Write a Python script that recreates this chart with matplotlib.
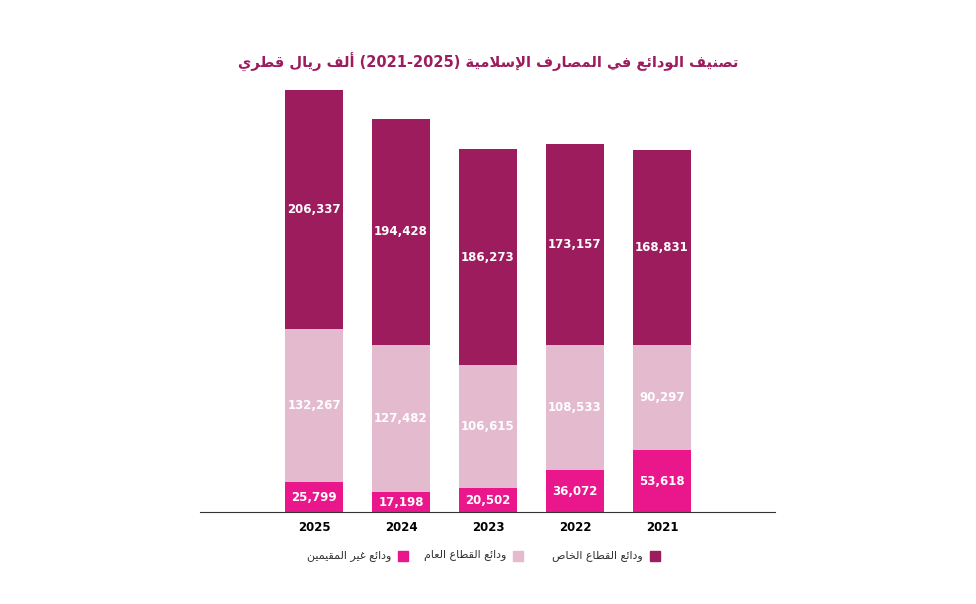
import matplotlib
matplotlib.use('Agg')
import matplotlib.pyplot as plt
import numpy as np

years = ['2025', '2024', '2023', '2022', '2021']
non_resident = [25799, 17198, 20502, 36072, 53618]
public_sector = [132267, 127482, 106615, 108533, 90297]
private_sector = [206337, 194428, 186273, 173157, 168831]

title = 'تصنيف الودائع في المصارف الإسلامية (2021-2025) ألف ريال قطري'
lbl_non = 'ودائع غير المقيمين'
lbl_pub = 'ودائع القطاع العام'
lbl_priv = 'ودائع القطاع الخاص'

dark = '#9C1C5E'
light = '#E3BACE'
pink = '#E9168C'

# simple Arabic shaping: (isolated, final, initial, medial)
FORMS = {
    'ا': (0xFE8D, 0xFE8E, None, None), 'أ': (0xFE83, 0xFE84, None, None),
    'إ': (0xFE87, 0xFE88, None, None), 'د': (0xFEA9, 0xFEAA, None, None),
    'ر': (0xFEAD, 0xFEAE, None, None), 'و': (0xFEED, 0xFEEE, None, None),
    'ة': (0xFE93, 0xFE94, None, None),
    'ت': (0xFE95, 0xFE96, 0xFE97, 0xFE98), 'س': (0xFEB1, 0xFEB2, 0xFEB3, 0xFEB4),
    'ص': (0xFEB9, 0xFEBA, 0xFEBB, 0xFEBC), 'ط': (0xFEC1, 0xFEC2, 0xFEC3, 0xFEC4),
    'ع': (0xFEC9, 0xFECA, 0xFECB, 0xFECC), 'غ': (0xFECD, 0xFECE, 0xFECF, 0xFED0),
    'ف': (0xFED1, 0xFED2, 0xFED3, 0xFED4), 'ق': (0xFED5, 0xFED6, 0xFED7, 0xFED8),
    'ل': (0xFEDD, 0xFEDE, 0xFEDF, 0xFEE0), 'م': (0xFEE1, 0xFEE2, 0xFEE3, 0xFEE4),
    'ن': (0xFEE5, 0xFEE6, 0xFEE7, 0xFEE8), 'ي': (0xFEF1, 0xFEF2, 0xFEF3, 0xFEF4),
    'ئ': (0xFE89, 0xFE8A, 0xFE8B, 0xFE8C), 'خ': (0xFEA5, 0xFEA6, 0xFEA7, 0xFEA8),
}
LAM_ALEF = {'ا': (0xFEFB, 0xFEFC), 'أ': (0xFEF7, 0xFEF8), 'إ': (0xFEF9, 0xFEFA)}


def shape_word(w):
    if not any(c in FORMS for c in w):
        return w
    # merge lam-alef
    units = []
    i = 0
    while i < len(w):
        if w[i] == 'ل' and i + 1 < len(w) and w[i + 1] in LAM_ALEF:
            units.append(('LA', w[i + 1]))
            i += 2
        else:
            units.append(('C', w[i]))
            i += 1
    out = []
    for k, (kind, c) in enumerate(units):
        prev_joins = False
        if k > 0:
            pk, pc = units[k - 1]
            prev_joins = pk == 'C' and FORMS[pc][2] is not None
        if kind == 'LA':
            iso, fin = LAM_ALEF[c]
            out.append(chr(fin if prev_joins else iso))
            continue
        f = FORMS[c]
        next_exists = k + 1 < len(units)
        can_next = f[2] is not None and next_exists
        if prev_joins and can_next:
            out.append(chr(f[3]))
        elif prev_joins:
            out.append(chr(f[1]))
        elif can_next:
            out.append(chr(f[2]))
        else:
            out.append(chr(f[0]))
    return ''.join(reversed(out))


def rtl(text):
    return ' '.join(shape_word(w) for w in reversed(text.split(' ')))


fig = plt.figure(figsize=(9.76, 6.04), dpi=100)
ax = fig.add_axes([0.205, 0.152, 0.589, 0.699])
x = np.arange(len(years))
w = 0.67
ax.bar(x, non_resident, w, color=pink)
ax.bar(x, public_sector, w, bottom=non_resident, color=light)
b2 = np.array(non_resident) + np.array(public_sector)
ax.bar(x, private_sector, w, bottom=b2, color=dark)

for i in range(len(years)):
    ax.text(x[i], non_resident[i] / 2, f'{non_resident[i]:,}', ha='center', va='center',
            color='white', fontsize=8.5, fontweight='bold')
    ax.text(x[i], non_resident[i] + public_sector[i] / 2, f'{public_sector[i]:,}', ha='center',
            va='center', color='white', fontsize=8.5, fontweight='bold')
    ax.text(x[i], b2[i] + private_sector[i] / 2, f'{private_sector[i]:,}', ha='center',
            va='center', color='white', fontsize=8.5, fontweight='bold')

ax.set_xlim(-1.31, 5.30)
ax.set_ylim(0, b2[0] + private_sector[0])
for s in ['top', 'right', 'left']:
    ax.spines[s].set_visible(False)
ax.spines['bottom'].set_color('#333333')
ax.set_yticks([])
ax.set_xticks(x)
ax.set_xticklabels(years, fontsize=8.5, fontweight='bold')
ax.tick_params(axis='x', length=0, pad=6)

fig.text(0.5, 0.897, rtl(title), ha='center', va='center', color=dark, fontsize=10.5,
         fontweight='bold', family=['DejaVu Sans'])

legend_items = [(lbl_priv, dark, 0.671), (lbl_pub, light, 0.531), (lbl_non, pink, 0.413)]
for lbl, col, xs in legend_items:
    fig.patches.append(plt.Rectangle((xs - 0.005, 0.072), 0.010, 0.016, color=col,
                                     transform=fig.transFigure, figure=fig))
    fig.text(xs - 0.012, 0.080, rtl(lbl), ha='right', va='center', fontsize=8,
             color='#333333', family=['DejaVu Sans'])

fig.savefig('out.png', dpi=100)
